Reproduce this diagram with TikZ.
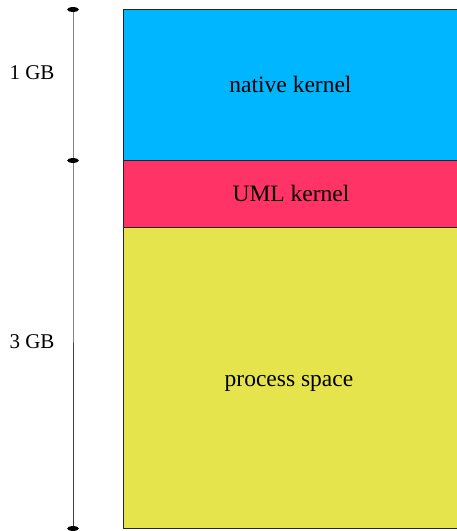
\documentclass[tikz,border=0pt]{standalone}
\usepackage{fontspec}
\setmainfont{Liberation Serif}
\definecolor{kernblue}{RGB}{0,182,255}
\definecolor{umlred}{RGB}{255,51,102}
\definecolor{procyellow}{RGB}{230,228,76}
\begin{document}
\begin{tikzpicture}[x=1pt,y=-1pt,
  region/.style={draw=black!85,line width=0.9pt},
  regionlabel/.style={font=\fontsize{23.5}{26}\selectfont,inner sep=0pt,anchor=base},
  sizelabel/.style={font=\fontsize{21}{24}\selectfont,inner sep=0pt,anchor=base},
  axisline/.style={draw=black!75,line width=0.8pt},
  tick/.style={fill=black}]
\useasboundingbox (0,0) rectangle (456,531);
% memory regions
\path[region,fill=kernblue]   (123.5,9.5)   rectangle (470,160.5);
\path[region,fill=umlred]     (123.5,160.5) rectangle (470,227.5);
\path[region,fill=procyellow] (123.5,227.5) rectangle (470,528.5);
\node[regionlabel] (native) at (290.5,92.5) {native kernel};
\node[regionlabel] (uml)    at (291,201)    {UML kernel};
\node[regionlabel] (proc)   at (289,386)    {process space};
% size axis with end marks
\coordinate (top) at (73,9.5);
\coordinate (mid) at (73,160.5);
\coordinate (bot) at (73,528.5);
\draw[axisline] (top) -- (mid) -- (bot);
\foreach \p in {top,mid,bot} \fill[tick] (\p) ellipse (6pt and 2.4pt);
\node[sizelabel] (gb1) at (32,79)  {1 GB};
\node[sizelabel] (gb3) at (32,348) {3 GB};
\end{tikzpicture}
\end{document}
